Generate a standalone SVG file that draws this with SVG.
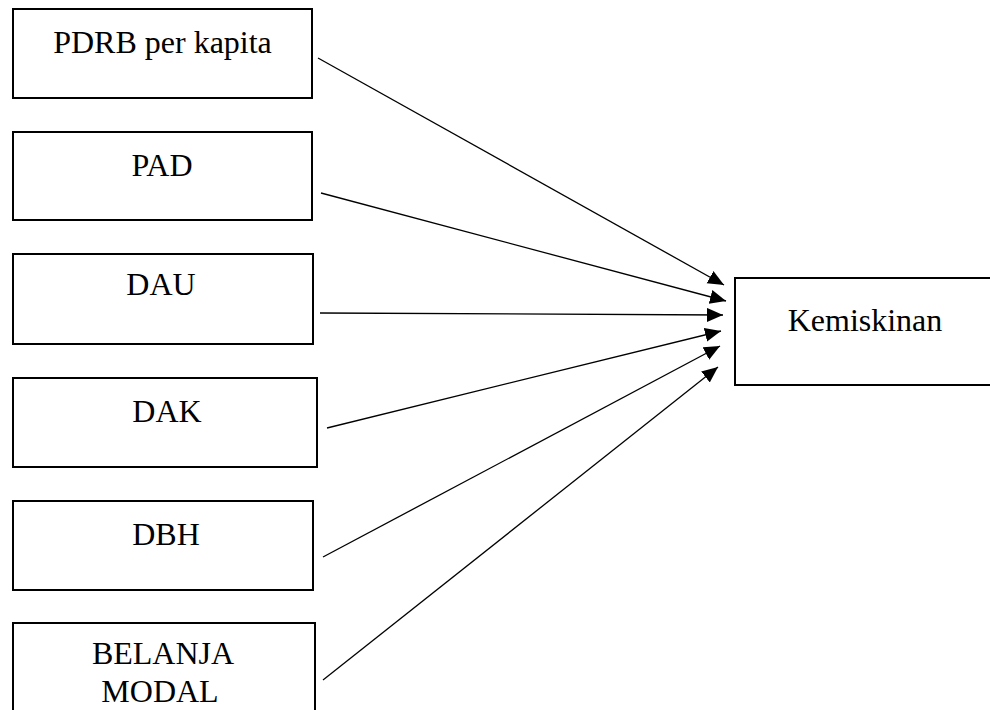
<svg xmlns="http://www.w3.org/2000/svg" width="990" height="710" viewBox="0 0 990 710">
<style>
.box{fill:#fff;stroke:#000;stroke-width:2}
.t{font-family:"Liberation Serif","Times New Roman",serif;font-size:32px;fill:#000;text-anchor:middle}
.c{stroke:#000;stroke-width:1.3;fill:none;marker-end:url(#ah)}
</style>
<defs>
<marker id="ah" markerUnits="userSpaceOnUse" markerWidth="17" markerHeight="15" refX="16" refY="7" orient="auto">
<path d="M0,0 L16,7 L0,14 z" fill="#000"/>
</marker>
</defs>
<rect width="990" height="710" fill="#fff"/>
<g id="connectors">
<line class="c" x1="318" y1="58" x2="724" y2="285"/>
<line class="c" x1="321" y1="193" x2="726" y2="301"/>
<line class="c" x1="320" y1="313" x2="723" y2="315"/>
<line class="c" x1="327" y1="428" x2="721" y2="331"/>
<line class="c" x1="323" y1="557" x2="720" y2="346"/>
<line class="c" x1="323" y1="680" x2="718" y2="367"/>
</g>
<g id="pdrb"><rect class="box" x="13" y="9" width="299" height="89"/><text class="t" x="162.5" y="53">PDRB per kapita</text></g>
<g id="pad"><rect class="box" x="13" y="132" width="299" height="88"/><text class="t" x="162" y="176">PAD</text></g>
<g id="dau"><rect class="box" x="13" y="254" width="300" height="90"/><text class="t" x="161" y="295">DAU</text></g>
<g id="dak"><rect class="box" x="13" y="378" width="304" height="89"/><text class="t" x="167" y="422">DAK</text></g>
<g id="dbh"><rect class="box" x="13" y="501" width="300" height="89"/><text class="t" x="166" y="545">DBH</text></g>
<g id="belanja"><rect class="box" x="13" y="623" width="302" height="100"/><text class="t" x="163" y="664">BELANJA</text><text class="t" x="160" y="702">MODAL</text></g>
<g id="kemiskinan"><rect class="box" x="735" y="278" width="270" height="107"/><text class="t" x="865" y="331">Kemiskinan</text></g>
</svg>
